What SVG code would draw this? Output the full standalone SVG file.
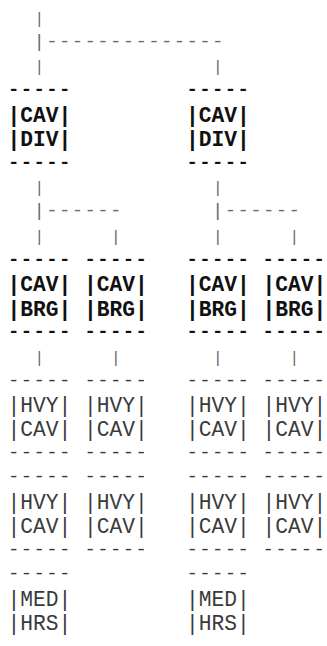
<svg xmlns="http://www.w3.org/2000/svg" width="327" height="646" viewBox="0 0 327 646">
<style>
text{font-family:"Liberation Mono","Courier New",monospace;font-size:21.25px;white-space:pre}
.b{font-weight:bold;fill:#111}
.r{fill:#3a3a3a}
.c{fill:#6a6a6a}
.d{font-size:19px;letter-spacing:1.35px}
.p{font-size:16px}
</style>
<rect width="327" height="646" fill="#fff"/>
<g id="connectors" class="c">
<text x="34.6" y="24" class="p">|</text>
<text x="33.6" y="47" class="d">|--------------</text>
<text x="34.6" y="72.4" class="p">|</text>
<text x="213.1" y="72.4" class="p">|</text>
<text x="34.6" y="193.3" class="p">|</text>
<text x="213.1" y="193.3" class="p">|</text>
<text x="33.6" y="216.3" class="d">|------</text>
<text x="212.1" y="216.3" class="d">|------</text>
<text x="34.6" y="241.7" class="p">|</text>
<text x="111.1" y="241.7" class="p">|</text>
<text x="213.1" y="241.7" class="p">|</text>
<text x="289.6" y="241.7" class="p">|</text>
<text x="34.6" y="362.7" class="p">|</text>
<text x="111.1" y="362.7" class="p">|</text>
<text x="213.1" y="362.7" class="p">|</text>
<text x="289.6" y="362.7" class="p">|</text>
</g>
<g id="div1" class="b"><text x="8" y="95.3" class="d">-----</text><text x="7.5" y="122">|CAV|</text><text x="7.5" y="146.2">|DIV|</text><text x="8" y="167.8" class="d">-----</text></g>
<g id="div2" class="b"><text x="186.5" y="95.3" class="d">-----</text><text x="186" y="122">|CAV|</text><text x="186" y="146.2">|DIV|</text><text x="186.5" y="167.8" class="d">-----</text></g>
<g id="brg1" class="b"><text x="8" y="264.6" class="d">-----</text><text x="7.5" y="291.3">|CAV|</text><text x="7.5" y="315.5">|BRG|</text><text x="8" y="337.2" class="d">-----</text></g>
<g id="brg2" class="b"><text x="84.5" y="264.6" class="d">-----</text><text x="84" y="291.3">|CAV|</text><text x="84" y="315.5">|BRG|</text><text x="84.5" y="337.2" class="d">-----</text></g>
<g id="brg3" class="b"><text x="186.5" y="264.6" class="d">-----</text><text x="186" y="291.3">|CAV|</text><text x="186" y="315.5">|BRG|</text><text x="186.5" y="337.2" class="d">-----</text></g>
<g id="brg4" class="b"><text x="262.6" y="264.6" class="d">-----</text><text x="262.5" y="291.3">|CAV|</text><text x="262.5" y="315.5">|BRG|</text><text x="262.6" y="337.2" class="d">-----</text></g>
<g id="hvy1a" class="r"><text x="8" y="385.6" class="d">-----</text><text x="7.5" y="412.3">|HVY|</text><text x="7.5" y="436.4">|CAV|</text><text x="8" y="458.1" class="d">-----</text></g>
<g id="hvy2a" class="r"><text x="84.5" y="385.6" class="d">-----</text><text x="84" y="412.3">|HVY|</text><text x="84" y="436.4">|CAV|</text><text x="84.5" y="458.1" class="d">-----</text></g>
<g id="hvy3a" class="r"><text x="186.5" y="385.6" class="d">-----</text><text x="186" y="412.3">|HVY|</text><text x="186" y="436.4">|CAV|</text><text x="186.5" y="458.1" class="d">-----</text></g>
<g id="hvy4a" class="r"><text x="262.6" y="385.6" class="d">-----</text><text x="262.5" y="412.3">|HVY|</text><text x="262.5" y="436.4">|CAV|</text><text x="262.6" y="458.1" class="d">-----</text></g>
<g id="hvy1b" class="r"><text x="8" y="482.3" class="d">-----</text><text x="7.5" y="509">|HVY|</text><text x="7.5" y="533.2">|CAV|</text><text x="8" y="554.9" class="d">-----</text></g>
<g id="hvy2b" class="r"><text x="84.5" y="482.3" class="d">-----</text><text x="84" y="509">|HVY|</text><text x="84" y="533.2">|CAV|</text><text x="84.5" y="554.9" class="d">-----</text></g>
<g id="hvy3b" class="r"><text x="186.5" y="482.3" class="d">-----</text><text x="186" y="509">|HVY|</text><text x="186" y="533.2">|CAV|</text><text x="186.5" y="554.9" class="d">-----</text></g>
<g id="hvy4b" class="r"><text x="262.6" y="482.3" class="d">-----</text><text x="262.5" y="509">|HVY|</text><text x="262.5" y="533.2">|CAV|</text><text x="262.6" y="554.9" class="d">-----</text></g>
<g id="med1" class="r"><text x="8" y="579.1" class="d">-----</text><text x="7.5" y="605.8">|MED|</text><text x="7.5" y="630">|HRS|</text></g>
<g id="med2" class="r"><text x="186.5" y="579.1" class="d">-----</text><text x="186" y="605.8">|MED|</text><text x="186" y="630">|HRS|</text></g>
</svg>
